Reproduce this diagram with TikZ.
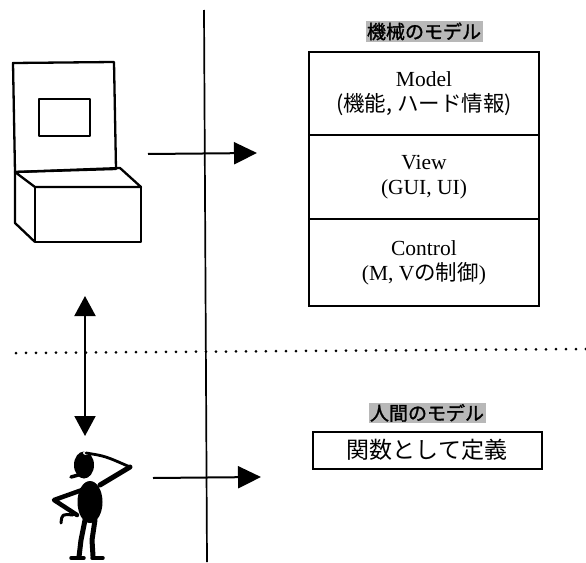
\documentclass[tikz,border=0pt]{standalone}
\usepackage{fontspec}
\setmainfont{Liberation Serif}
\newfontfamily\jp{Noto Sans CJK JP}
\newfontfamily\jpb[FakeBold=1.5]{Noto Sans CJK JP}
\usetikzlibrary{arrows.meta,positioning,calc}

\begin{document}
\begin{tikzpicture}[x=1pt,y=-1pt,
  every node/.style={font=\fontsize{21.5}{25}\selectfont},
  layer/.style={draw=black,line width=2pt,outer sep=0pt,align=center,minimum width=230pt,inner sep=0pt},
  hdr/.style={fill=black!28,inner sep=1.5pt,font=\fontsize{19}{21}\selectfont\jpb},
  fn/.style={draw=black,line width=2pt,minimum width=229pt,minimum height=37pt,font=\fontsize{23}{24}\selectfont\jp},
  ar/.style={-{Triangle[length=23pt,width=22pt]},line width=2pt},
  dar/.style={{Triangle[length=20pt,width=21pt]}-{Triangle[length=20pt,width=21pt]},line width=2pt},
  pc/.style={line width=2.3pt,line join=round},
  man/.style={line cap=round,line join=round}]
\useasboundingbox (0,0) rectangle (586,562);
% divider lines
\draw[line width=1.7pt] (204,10) -- (207,562);
\draw[line width=3pt,line cap=round,dash pattern=on 0pt off 10pt] (16,353) -- (586,349);
% machine side: MVC stack
\node[layer,minimum height=83pt] (model) at (424,93.5) {Model\\{\jp (機能, ハード情報)}};
\node[layer,minimum height=84pt,below=0pt of model] (view) {View\\(GUI, UI)};
\node[layer,minimum height=87pt,below=0pt of view] (ctrl) {Control\\(M, V{\jp の制御})};
\node[hdr,above=10pt of model] (mhdr) {機械のモデル};
% human side
\node[fn] (func) at (427,450) {関数として定義};
\node[hdr,above=7pt of func] (hhdr) {人間のモデル};
% computer
\draw[pc] (13,63) -- (114,62) -- (116,169) -- (15,172) -- cycle;
\draw[pc] (39,99) rectangle (90,136);
\draw[pc] (15,172) -- (120,168) -- (141,187) -- (35,187) -- cycle;
\draw[pc] (35,187) rectangle (141,242);
\draw[pc] (15,172) -- (15,223) -- (35,242);
% person
\fill (90,502) ellipse (12.5pt and 21pt);
\fill (84,465) ellipse (10pt and 13.5pt);
\fill[white] (86,453) ellipse (3pt and 2pt);
\draw[man,line width=3.5pt] (71,477) -- (82,474);
\draw[man,line width=2.8pt] (86,453) .. controls (105,456) .. (130,467);
\draw[man,line width=5pt] (130,467) -- (100,485);
\draw[man,line width=4.5pt] (82,490) -- (54,500) -- (77,515);
\draw[man,line width=3pt] (73,515) .. controls (62,514) .. (61,523);
\draw[man,line width=5pt] (85,520) -- (81,540) -- (79,557);
\draw[man,line width=3.5pt] (71,558) -- (84,558);
\draw[man,line width=5pt] (95,520) -- (92,540) -- (93,556);
\draw[man,line width=3.5pt] (92,558) -- (103,558);
% connectors
\coordinate (pcout) at (148,154);
\coordinate (pcin) at (257,153);
\draw[ar] (pcout) -- (pcin);
\coordinate (mnout) at (153,478);
\coordinate (mnin) at (261,477);
\draw[ar] (mnout) -- (mnin);
\coordinate (linkup) at (85,296);
\coordinate (linkdn) at (85,436);
\draw[dar] (linkup) -- (linkdn);
\end{tikzpicture}
\end{document}
